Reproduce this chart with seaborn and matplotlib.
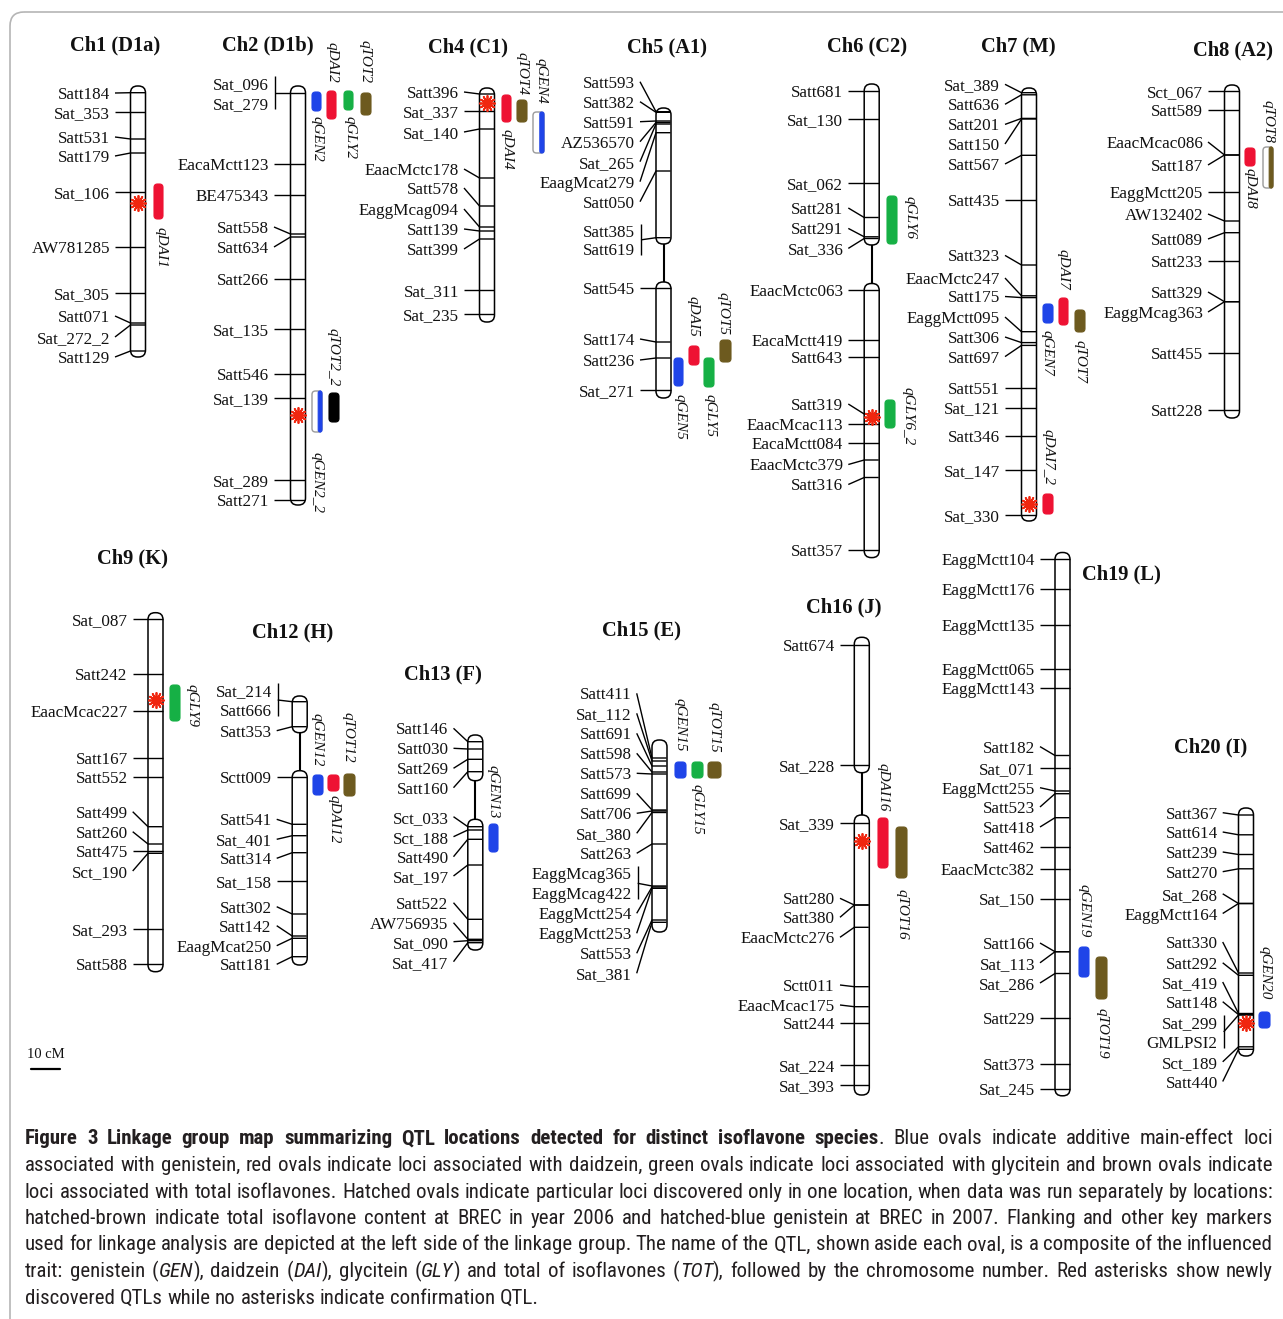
import matplotlib
matplotlib.use("Agg")
import matplotlib.pyplot as plt
from matplotlib.patches import FancyBboxPatch
from matplotlib import font_manager
import seaborn as sns

# ---------------------------------------------------------------- data
# marker names, map positions (figure map units) and label rows
CH1_MARKERS = ["Satt184", "Sat_353", "Satt531", "Satt179", "Sat_106", "AW781285",
               "Sat_305", "Satt071", "Sat_272_2", "Satt129"]
CH1_POS = [92.7, 112, 139, 153, 192, 247, 293, 323, 325, 351]
CH1_LABEL_Y = [93, 112, 137, 156, 192, 247, 293, 316, 337, 357]

CH2_MARKERS = ["Sat_096", "Sat_279", "EacaMctt123", "BE475343", "Satt558", "Satt634",
               "Satt266", "Sat_135", "Satt546", "Sat_139", "Sat_289", "Satt271"]
CH2_POS = [93, 93, 164, 195, 234, 237, 279, 329, 374, 398, 480, 500]
CH2_LABEL_Y = [83, 103, 164, 195, 227, 247, 279, 329, 374, 398, 480, 500]

CH4_MARKERS = ["Satt396", "Sat_337", "Sat_140", "EaacMctc178", "Satt578", "EaggMcag094",
               "Satt139", "Satt399", "Sat_311", "Sat_235"]
CH4_POS = [94, 111, 129, 178, 206, 227, 231, 239, 290, 314]
CH4_LABEL_Y = [92, 111, 132, 169, 188, 209, 229, 249, 290, 314]

CH5_MARKERS = ["Satt593", "Satt382", "Satt591", "AZ536570", "Sat_265", "EaagMcat279",
               "Satt050", "Satt385", "Satt619", "Satt545", "Satt174", "Satt236", "Sat_271"]
CH5_POS = [111.7, 112.3, 121, 122.5, 124, 132.7, 171, 237.7, 237.7, 288, 342, 358, 390]
CH5_LABEL_Y = [81.7, 101.7, 121.7, 141.7, 161.7, 181.7, 201.7, 230.7, 249, 288, 339, 360, 390]

CH6_MARKERS = ["Satt681", "Sat_130", "Sat_062", "Satt281", "Satt291", "Sat_336",
               "EaacMctc063", "EacaMctt419", "Satt643", "Satt319", "EaacMcac113",
               "EacaMctt084", "EaacMctc379", "Satt316", "Satt357"]
CH6_POS = [91.3, 119.4, 182.7, 217.5, 236.8, 238.5, 289.9, 339.7, 357.3, 414, 424,
           442.7, 460, 477.5, 549.9]
CH6_LABEL_Y = [91.3, 119.4, 182.7, 208, 228.4, 248.4, 289.9, 339.7, 357.3, 404, 424,
               442.7, 464.5, 484.5, 549.9]

CH7_MARKERS = ["Sat_389", "Satt636", "Satt201", "Satt150", "Satt567", "Satt435", "Satt323",
               "EaacMctc247", "Satt175", "EaggMctt095", "Satt306", "Satt697", "Satt551",
               "Sat_121", "Satt346", "Sat_147", "Sat_330"]
CH7_POS = [92.7, 94.8, 118.4, 119, 155.3, 200, 265, 295.8, 297.6, 331.7, 342.6, 345.4,
           387.9, 407.6, 436.4, 469.8, 515.4]
CH7_LABEL_Y = [84.3, 104.3, 124.4, 144, 164, 200, 255.4, 278, 296.5, 317, 337, 356.6,
               387.9, 407.6, 436.4, 469.8, 515.4]

CH8_MARKERS = ["Sct_067", "Satt589", "EaacMcac086", "Satt187", "EaggMctt205", "AW132402",
               "Satt089", "Satt233", "Satt329", "EaggMcag363", "Satt455", "Satt228"]
CH8_POS = [90.7, 110, 155, 155, 191.7, 221, 232.7, 260.7, 301.7, 301.7, 353.3, 410]
CH8_LABEL_Y = [90.7, 110, 142, 165, 191.7, 214, 239, 260.7, 292, 312, 353.3, 410]

CH9_MARKERS = ["Sat_087", "Satt242", "EaacMcac227", "Satt167", "Satt552", "Satt499",
               "Satt260", "Satt475", "Sct_190", "Sat_293", "Satt588"]
CH9_POS = [619, 674.3, 711, 758.3, 777.3, 826.7, 844, 851, 853.3, 929, 964.3]
CH9_LABEL_Y = [619, 674.3, 711, 758.3, 777.3, 811.7, 831.7, 851, 871, 929, 964.3]

CH12_MARKERS = ["Sat_214", "Satt666", "Satt353", "Sctt009", "Satt541", "Sat_401", "Satt314",
                "Sat_158", "Satt302", "Satt142", "EaagMcat250", "Satt181"]
CH12_POS = [701.7, 701.7, 726.7, 777.3, 824.3, 835.7, 852.7, 881, 914, 936, 938.3, 956.7]
CH12_LABEL_Y = [690, 710, 730.7, 777.3, 819.3, 839.3, 858.3, 881, 906.7, 925.7, 945.7, 964.3]

CH13_MARKERS = ["Satt146", "Satt030", "Satt269", "Satt160", "Sct_033", "Sct_188", "Satt490",
                "Sat_197", "Satt522", "AW756935", "Sat_090", "Sat_417"]
CH13_POS = [741.7, 749, 759.3, 771.7, 826.7, 830, 839.3, 865, 919.3, 939.3, 940.7, 942.7]
CH13_LABEL_Y = [728.3, 748.3, 768.3, 787.7, 816.7, 836.7, 856.7, 876, 902.7, 922.7, 941.7, 961.7]

CH15_MARKERS = ["Satt411", "Sat_112", "Satt691", "Satt598", "Satt573", "Satt699", "Satt706",
                "Sat_380", "Satt263", "EaggMcag365", "EaggMcag422", "EaggMctt254",
                "EaggMctt253", "Satt553", "Sat_381"]
CH15_POS = [758, 761, 766, 772, 774, 810, 811, 812.5, 844, 886, 886, 887, 888.3, 920, 922.3]
CH15_LABEL_Y = [693.3, 713.3, 733.3, 753.3, 773.3, 793.3, 813.3, 833.3, 853.3, 873.3,
                893.3, 913.3, 933.3, 953.3, 973.3]

CH16_MARKERS = ["Satt674", "Sat_228", "Sat_339", "Satt280", "Satt380", "EaacMctc276",
                "Sctt011", "EaacMcac175", "Satt244", "Sat_224", "Sat_393"]
CH16_POS = [645, 765, 823.3, 905, 905, 927.3, 986.7, 1006.7, 1023.3, 1065, 1085]
CH16_LABEL_Y = [645, 765, 823.3, 898.3, 917.3, 937.3, 985, 1005, 1023.3, 1065, 1085]

CH19_MARKERS = ["EaggMctt104", "EaggMctt176", "EaggMctt135", "EaggMctt065", "EaggMctt143",
                "Satt182", "Sat_071", "EaggMctt255", "Satt523", "Satt418", "Satt462",
                "EaacMctc382", "Sat_150", "Satt166", "Sat_113", "Sat_286", "Satt229",
                "Satt373", "Sat_245"]
CH19_POS = [558.6, 589.3, 624.7, 668.7, 687.6, 755.5, 767.7, 791, 793.7, 817.7, 847.4,
            868.8, 898.5, 951.7, 951.7, 973.5, 1018, 1064.3, 1088.6]
CH19_LABEL_Y = [558.6, 589.3, 624.7, 668.7, 687.6, 746.6, 767.7, 787.7, 807, 827, 847.4,
                868.8, 898.5, 943, 962.8, 983, 1018, 1064.3, 1088.6]

CH20_MARKERS = ["Satt367", "Satt614", "Satt239", "Satt270", "Sat_268", "EaggMctt164",
                "Satt330", "Satt292", "Sat_419", "Satt148", "Sat_299", "GMLPSI2",
                "Sct_189", "Satt440"]
CH20_POS = [815, 834.8, 854.5, 868.8, 903.5, 903.5, 973, 975.3, 1013.5, 1014.6, 1015,
            1015, 1046.8, 1049.3]
CH20_LABEL_Y = [812.7, 832, 852, 871.7, 893.8, 913.5, 942, 962.8, 982, 1001.7, 1021.8,
                1042, 1061.8, 1081.5]

# QTL intervals (map units) and traits
QTL_NAMES = ["qDAI1", "qGEN2", "qDAI2", "qGLY2", "qTOT2", "qGEN2_2", "qTOT2_2",
             "qDAI4", "qTOT4", "qGEN4", "qGEN5", "qDAI5", "qGLY5", "qTOT5",
             "qGLY6", "qGLY6_2", "qGEN7", "qDAI7", "qTOT7", "qDAI7_2", "qDAI8", "qTOT8",
             "qGLY9", "qGEN12", "qDAI12", "qTOT12", "qGEN13", "qGEN15", "qGLY15", "qTOT15",
             "qDAI16", "qTOT16", "qGEN19", "qTOT19", "qGEN20"]
QTL_TRAIT = ["DAI", "GEN", "DAI", "GLY", "TOT", "GEN", "BLK",
             "DAI", "TOT", "GEN", "GEN", "DAI", "GLY", "TOT",
             "GLY", "GLY", "GEN", "DAI", "TOT", "DAI", "DAI", "TOT",
             "GLY", "GEN", "DAI", "TOT", "GEN", "GEN", "GLY", "TOT",
             "DAI", "TOT", "GEN", "TOT", "GEN"]
QTL_HATCHED = [0, 0, 0, 0, 0, 1, 0, 0, 0, 1, 0, 0, 0, 0, 0, 0, 0, 0, 0, 0, 0, 1,
               0, 0, 0, 0, 0, 0, 0, 0, 0, 0, 0, 0, 0]
QTL_START = [184, 92, 91, 91, 93, 391, 393, 95, 100, 112, 358, 346, 358, 340,
             196, 400, 304, 298, 310, 494, 148, 147,
             685, 775, 775, 774, 824, 762, 762, 762, 818, 827, 947, 957, 1012]
QTL_END = [219, 111, 119, 110, 115, 432, 422, 122, 122, 153, 386, 365, 387, 362,
           244, 428, 323, 325, 332, 514, 166, 188,
           721, 795, 791, 796, 852, 778, 778, 778, 868, 878, 977, 999, 1028]

# newly discovered QTL (asterisks): chromosome and map position
AST_CHROM = ["Ch1", "Ch2", "Ch4", "Ch6", "Ch7", "Ch9", "Ch16", "Ch20"]
AST_POS = [203, 415, 103, 417, 504, 700, 841, 1022.5]

CAPTION = [
    [("Figure 3 Linkage group map summarizing QTL locations detected for distinct isoflavone species", "b"),
     (". Blue ovals indicate additive main-effect loci", "n")],
    [("associated with genistein, red ovals indicate loci associated with daidzein, green ovals indicate loci associated with glycitein and brown ovals indicate", "n")],
    [("loci associated with total isoflavones. Hatched ovals indicate particular loci discovered only in one location, when data was run separately by locations:", "n")],
    [("hatched-brown indicate total isoflavone content at BREC in year 2006 and hatched-blue genistein at BREC in 2007. Flanking and other key markers", "n")],
    [("used for linkage analysis are depicted at the left side of the linkage group. The name of the QTL, shown aside each oval, is a composite of the influenced", "n")],
    [("trait: genistein (", "n"), ("GEN", "i"), ("), daidzein (", "n"), ("DAI", "i"),
     ("), glycitein (", "n"), ("GLY", "i"), (") and total of isoflavones (", "n"), ("TOT", "i"),
     ("), followed by the chromosome number. Red asterisks show newly", "n")],
    [("discovered QTLs while no asterisks indicate confirmation QTL.", "n")],
]

# ---------------------------------------------------------------- layout / style
TRAIT_COLORS = {"GEN": "#1f44e8", "DAI": "#ee1233", "GLY": "#16b045", "TOT": "#6d5a1f",
                "BLK": "#000000"}

# chromosome: (markers, pos, label_y, centre x, segments, label right edge, title, title xy, brackets)
CHROMS = {
    "Ch1": (CH1_MARKERS, CH1_POS, CH1_LABEL_Y, 138, [(86, 357)], 110, "Ch1 (D1a)", (115, 43), []),
    "Ch2": (CH2_MARKERS, CH2_POS, CH2_LABEL_Y, 298, [(86, 505)], 269, "Ch2 (D1b)", (268, 43), [(0, 1)]),
    "Ch4": (CH4_MARKERS, CH4_POS, CH4_LABEL_Y, 487, [(88, 322)], 459, "Ch4 (C1)", (468, 45), []),
    "Ch5": (CH5_MARKERS, CH5_POS, CH5_LABEL_Y, 663.5, [(108, 244), (282, 398)], 635, "Ch5 (A1)", (667, 45), [(7, 8)]),
    "Ch6": (CH6_MARKERS, CH6_POS, CH6_LABEL_Y, 871.7, [(84, 245), (283.5, 557.6)], 843.3, "Ch6 (C2)", (867, 44), []),
    "Ch7": (CH7_MARKERS, CH7_POS, CH7_LABEL_Y, 1029, [(88, 521)], 1000, "Ch7 (M)", (1018, 44), []),
    "Ch8": (CH8_MARKERS, CH8_POS, CH8_LABEL_Y, 1232, [(85, 418)], 1203, "Ch8 (A2)", (1233, 48), []),
    "Ch9": (CH9_MARKERS, CH9_POS, CH9_LABEL_Y, 155.5, [(612.7, 971.7)], 127.7, "Ch9 (K)", (132.5, 556), []),
    "Ch12": (CH12_MARKERS, CH12_POS, CH12_LABEL_Y, 299.7, [(696, 732.7), (770.7, 965)], 271.7, "Ch12 (H)", (292.5, 630), [(0, 1)]),
    "Ch13": (CH13_MARKERS, CH13_POS, CH13_LABEL_Y, 475.3, [(735, 780.7), (819.3, 950)], 448.5, "Ch13 (F)", (442.5, 672), []),
    "Ch15": (CH15_MARKERS, CH15_POS, CH15_LABEL_Y, 659.5, [(740, 932)], 631.7, "Ch15 (E)", (642, 628), [(9, 10)]),
    "Ch16": (CH16_MARKERS, CH16_POS, CH16_LABEL_Y, 861.8, [(637.3, 772.7), (815, 1095)], 835, "Ch16 (J)", (844, 605), []),
    "Ch19": (CH19_MARKERS, CH19_POS, CH19_LABEL_Y, 1062.5, [(552.5, 1095.8)], 1035, "Ch19 (L)", (1121, 571.5), []),
    "Ch20": (CH20_MARKERS, CH20_POS, CH20_LABEL_Y, 1246, [(808, 1056)], 1217.7, "Ch20 (I)", (1211, 745), [(10, 11)]),
}

# QTL box left/right x and label centre
QTL_X = [(154, 163), (312, 321), (327, 336), (344, 353), (361, 371), (312, 322), (329, 339),
         (502, 511), (517, 527), (533, 544), (674, 683), (689, 699), (704, 714), (720, 731),
         (887, 897), (885, 895), (1043, 1053), (1059, 1068), (1075, 1085), (1043, 1053),
         (1245, 1255), (1263, 1273), (170, 180), (313, 323), (328, 339), (344, 355),
         (489, 498), (675, 686), (692, 703), (708, 721), (878, 888), (896, 907),
         (1079, 1089), (1096, 1107), (1259, 1270)]
QTL_LABEL_XY = [(161, 247), (317, 139), (332, 62), (350, 138), (365, 62), (317, 482), (333, 357),
                (507, 149), (522, 74), (541, 81), (680, 417), (693, 316), (710, 415), (723, 313),
                (910, 217), (908, 416), (1047, 353), (1063, 269), (1080, 361), (1048, 457),
                (1250, 188), (1268, 121), (192, 705), (317, 740), (334, 819), (348, 737),
                (493, 792), (680, 725), (697, 809), (714, 727), (883, 787), (902, 914),
                (1084, 911), (1102, 1033), (1265, 973)]

LABEL_FS = 12.3
TITLE_FS = 14.8
QTL_FS = 11
HALF_W = 7.5

# ---------------------------------------------------------------- figure
sns.set_theme(style="white")
plt.rcParams['font.family'] = ['Liberation Serif', 'DejaVu Serif']

W, H = 1283, 1319
fig = plt.figure(figsize=(W / 100, H / 100), dpi=100)
ax = fig.add_axes([0, 0, 1, 1])
ax.set_xlim(0, W)
ax.set_ylim(H, 0)
ax.axis('off')

# outer frame
ax.add_patch(FancyBboxPatch((10, 12), 1300, 1340, boxstyle="round,pad=0,rounding_size=14",
                            fc='none', ec='#b5b5b5', lw=1.2, zorder=0))

LINE_KW = dict(color='black', lw=1.0, solid_capstyle='butt', zorder=3)

for key, (names, pos, lys, cx, segs, lab_r, title, txy, brackets) in CHROMS.items():
    for (t, b) in segs:
        ax.add_patch(FancyBboxPatch((cx - HALF_W, t), 2 * HALF_W, b - t,
                                    boxstyle="round,pad=0,rounding_size=7",
                                    fc='white', ec='black', lw=1.1, zorder=2))
    for k in range(len(segs) - 1):
        ax.plot([cx, cx], [segs[k][1], segs[k + 1][0]], color='black', lw=1.5, zorder=1)
    bracketed = {i for br in brackets for i in br}
    xs = lab_r + 5
    for i, (nm, p, ly) in enumerate(zip(names, pos, lys)):
        ax.text(lab_r, ly, nm, ha='right', va='center_baseline', fontsize=LABEL_FS,
                color='#111111', zorder=4)
        if i not in bracketed:
            ax.plot([xs, cx - HALF_W, cx + HALF_W - 0.5], [ly, p, p], **LINE_KW)
    for (i, j) in brackets:
        bx = lab_r + 6
        ax.plot([bx, bx], [lys[i] - 7, lys[j] + 6], **LINE_KW)
        mid = (lys[i] + lys[j]) / 2
        ax.plot([bx, cx - HALF_W, cx + HALF_W - 0.5], [mid, pos[i], pos[i]], **LINE_KW)
    ax.text(txy[0], txy[1], title, ha='center', va='center_baseline', fontsize=TITLE_FS,
            fontweight='bold', color='#111111')

# QTL boxes
for name, trait, hatched, y0, y1, (x0, x1), (lx, ly) in zip(
        QTL_NAMES, QTL_TRAIT, QTL_HATCHED, QTL_START, QTL_END, QTL_X, QTL_LABEL_XY):
    col = TRAIT_COLORS[trait]
    w = x1 - x0
    if hatched:
        ax.add_patch(FancyBboxPatch((x0, y0), w, y1 - y0, boxstyle="round,pad=0,rounding_size=3.5",
                                    fc='white', ec='#9a9a9a', lw=1.0, zorder=3))
        ax.add_patch(FancyBboxPatch((x0 + 0.62 * w, y0), 0.38 * w, y1 - y0,
                                    boxstyle="round,pad=0,rounding_size=2",
                                    fc=col, ec=col, lw=0.8, zorder=3))
    else:
        ax.add_patch(FancyBboxPatch((x0, y0), w, y1 - y0, boxstyle="round,pad=0,rounding_size=3.5",
                                    fc=col, ec=col, lw=0.8, zorder=3))
    ax.text(lx, ly, name, rotation=-90, ha='center', va='center', fontsize=QTL_FS,
            fontstyle='italic', color='#111111')

# asterisks
ast_x = [CHROMS[c][3] for c in AST_CHROM]
sns.scatterplot(x=ast_x, y=AST_POS, marker=(12, 2, 0), s=120, color='#f0260f',
                linewidth=1.3, ax=ax, zorder=6, legend=False)

# scale bar
ax.text(46, 1053, "10 cM", ha='center', va='center_baseline', fontsize=10.5, color='#111111')
ax.plot([31, 60], [1069, 1069], color='black', lw=1.6)

# ---------------------------------------------------------------- caption (justified)
avail = {f.name for f in font_manager.fontManager.ttflist}
cap_family = next((f for f in ['Liberation Sans Narrow', 'Roboto Condensed', 'Roboto', 'Lato',
                               'DejaVu Sans'] if f in avail), 'DejaVu Sans')
renderer = fig.canvas.get_renderer()


def fprop(st, size):
    return font_manager.FontProperties(family=cap_family,
                                       weight='bold' if st == 'b' else 'normal',
                                       style='italic' if st == 'i' else 'normal', size=size)


def text_w(s, st, size):
    t = ax.text(0, 0, s, fontproperties=fprop(st, size))
    wdt = t.get_window_extent(renderer=renderer).width
    t.remove()
    return wdt


def words_of(segs):
    words = [[]]
    for txt, st in segs:
        parts = txt.split(' ')
        for k, p in enumerate(parts):
            if k > 0:
                words.append([])
            if p:
                words[-1].append((p, st))
    return [wd for wd in words if wd]


CAP_X0, CAP_X1 = 25, 1273
CAP_Y = [1137, 1163.5, 1190, 1216.5, 1243, 1269.5, 1296]
line_words = [words_of(l) for l in CAPTION]


def nat_width(words, size):
    sp = text_w("a a", 'n', size) - text_w("aa", 'n', size)
    return sum(sum(text_w(p, st, size) for p, st in wd) for wd in words) + sp * (len(words) - 1)


base = 10.0
max_nat = max(nat_width(wds, base) for wds in line_words[:-1])
cap_size = min(16.5, base * (CAP_X1 - CAP_X0) / max_nat * 0.995)
space = text_w("a a", 'n', cap_size) - text_w("aa", 'n', cap_size)

for li, (wds, y) in enumerate(zip(line_words, CAP_Y)):
    widths = [[text_w(p, st, cap_size) for p, st in wd] for wd in wds]
    total = sum(sum(w_) for w_ in widths)
    if li < len(line_words) - 1 and len(wds) > 1:
        gap = (CAP_X1 - CAP_X0 - total) / (len(wds) - 1)
    else:
        gap = space
    x = CAP_X0
    for wd, wl in zip(wds, widths):
        for (p, st), pw in zip(wd, wl):
            ax.text(x, y, p, fontproperties=fprop(st, cap_size), ha='left', va='center_baseline',
                    color='#231f20')
            x += pw
        x += gap

ax.set_xlim(0, W)
ax.set_ylim(H, 0)
fig.savefig("out.png", dpi=100)
